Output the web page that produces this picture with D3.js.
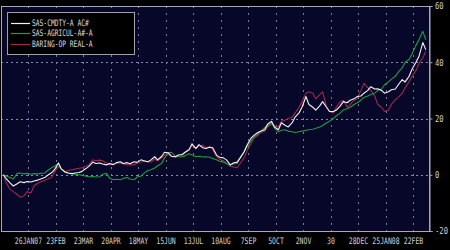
<!DOCTYPE html>
<html><head><meta charset="utf-8">
<script src="https://cdn.jsdelivr.net/npm/d3@7"></script>
<style>html,body{margin:0;padding:0;background:#000;}svg{display:block;}</style>
</head><body>
<script>
const seriesNames = ["SAS-CMDTY-A AC#", "SAS-AGRICUL-A#-A", "BARING-OP REAL-A"];
const seriesColors = ["#f2f2f2", "#1e9e3c", "#a02848"];
const tickDates = ["2007-01-26","2007-02-23","2007-03-23","2007-04-20","2007-05-18","2007-06-15","2007-07-13","2007-08-10","2007-09-07","2007-10-05","2007-11-02","2007-11-30","2007-12-28","2008-01-25","2008-02-22"];
const tickLabels = ["26JAN07","23FEB","23MAR","20APR","18MAY","15JUN","13JUL","10AUG","7SEP","5OCT","2NOV","30","28DEC","25JAN08","22FEB"];
const yTicks = [60, 40, 20, 0, -20];
const yGrid = [40, 20, 0];
const dates = [
"2007-01-01","2007-01-04","2007-01-08","2007-01-11","2007-01-15","2007-01-18","2007-01-22","2007-01-25","2007-01-29","2007-02-01",
"2007-02-05","2007-02-08","2007-02-12","2007-02-15","2007-02-19","2007-02-22","2007-02-26","2007-03-01","2007-03-05","2007-03-08",
"2007-03-12","2007-03-15","2007-03-19","2007-03-22","2007-03-26","2007-03-29","2007-04-02","2007-04-05","2007-04-09","2007-04-12",
"2007-04-16","2007-04-19","2007-04-23","2007-04-26","2007-04-30","2007-05-03","2007-05-07","2007-05-10","2007-05-14","2007-05-17",
"2007-05-21","2007-05-24","2007-05-28","2007-05-31","2007-06-04","2007-06-07","2007-06-11","2007-06-14","2007-06-18","2007-06-21",
"2007-06-25","2007-06-28","2007-07-02","2007-07-05","2007-07-09","2007-07-12","2007-07-16","2007-07-19","2007-07-23","2007-07-26",
"2007-07-30","2007-08-02","2007-08-06","2007-08-09","2007-08-13","2007-08-16","2007-08-20","2007-08-23","2007-08-27","2007-08-30",
"2007-09-03","2007-09-06","2007-09-10","2007-09-13","2007-09-17","2007-09-20","2007-09-24","2007-09-27","2007-10-01","2007-10-04",
"2007-10-08","2007-10-11","2007-10-15","2007-10-18","2007-10-22","2007-10-25","2007-10-29","2007-11-01","2007-11-05","2007-11-08",
"2007-11-12","2007-11-15","2007-11-19","2007-11-22","2007-11-26","2007-11-29","2007-12-03","2007-12-06","2007-12-10","2007-12-13",
"2007-12-17","2007-12-20","2007-12-24","2007-12-27","2007-12-31","2008-01-03","2008-01-07","2008-01-10","2008-01-14","2008-01-17",
"2008-01-21","2008-01-24","2008-01-28","2008-01-31","2008-02-04","2008-02-07","2008-02-11","2008-02-14","2008-02-18","2008-02-21",
"2008-02-25","2008-02-28","2008-03-03","2008-03-06"];
const cmdty = [0,-1.5,-3,-4,-3.2,-2.5,-2.8,-2.4,-2.6,-2.2,
-1.9,-1.5,-1,-0.2,0.7,1.8,4.2,2,1,0.6,
0.4,0.6,0.8,1.2,2.2,3,4.5,4,4.2,3.8,
3.5,4,3.6,4.3,4.6,4,4.3,3.9,4.6,4.4,
5.3,5,4.6,5.2,6.4,5.3,6.5,8,7.8,6.6,
6.4,7,7.2,8,8.9,11,9.3,10.7,9.6,9.3,
9.8,9.6,7,6.2,6,5.3,3.5,4.2,4.5,6,
8.2,10.5,13,14,15,15.5,16,18,19,17,
16,18.5,17.5,17,18.5,20.5,22,24,27.8,25,
24,23,24.5,26,24,22.5,22.5,23,24.5,26,
25.6,26.5,27,27.8,28,29,30,31.3,30.5,30.6,
30,29,29.5,30.2,30.5,32,33.8,33,35,37.5,
40,42,47,44.5];
const agricul = [0,-0.5,-1,-1.5,0.5,0.6,0.3,0.5,0.2,0.4,
0.3,0.5,0.6,1.5,2.5,3,4,2,0.8,0.5,
0.3,0.2,0,-0.2,-0.5,-0.7,-0.6,-0.8,-0.7,0.2,
0.5,-1.2,-1.8,-1.6,-1.8,-1.3,-1,-1.5,-1.8,-0.8,
-0.5,0.5,1.5,1.8,2.4,3.2,4,6,7.8,8,
6.5,6.4,6.4,6.8,7.5,7,6.4,6.6,6.3,6.4,
6.2,5.8,5.3,4.8,4.5,4,3.5,3.8,4,6,
8,10,12,13.5,14.5,15.5,16.7,17.5,18.5,16.5,
15.3,15.8,16,15.5,15.3,15,15.3,15.5,15.8,16,
16.2,16.5,17,17.5,18.5,19,20,21,22,23,
23.5,24,25,25.6,26.5,27.5,28,28.5,29,30,
30.5,32,33,34,35,36.5,38,40,41,43,
46,48,51,48];
const realEst = [0,-3,-5.3,-6,-7,-8,-7.5,-6,-6.5,-4,
-3,-2.5,-2,-1.5,-1,1,3,2,1,1.5,
1.8,2,2.3,2.5,3,3.5,5.3,5,5.2,5,
4.2,3.5,3.8,4,4.2,3.8,3.6,3.5,3.6,4,
4.5,4.8,4.6,4.5,5.5,5,6,7,7.2,6.5,
6.2,6.5,7,8,9,10.5,9.5,10.3,10.5,9.5,
10,9,6.5,5.5,5,4,3,2.8,2.5,4,
6,8.5,11,13,14,15,15.5,17,18,17.5,
17,19,19.5,20,20.5,22,24,26,29,29.5,
29,27,28.5,29.5,24,22.5,22,24,26,26.5,
24,25,26.5,27,30,32.5,31,30,28,25,
24,22.5,23,25,26.7,27.5,29,31,33,35,
37,39.5,41.6,43.8];
const seriesValues = [cmdty, agricul, realEst];

const W = 450, H = 250;
const plot = {left: 1, right: 430, top: 6, bottom: 232};
const parse = d3.timeParse("%Y-%m-%d");
const x = d3.scaleTime().domain([parse("2007-01-26"), parse("2008-02-22")]).range([28, 413]);
const y = d3.scaleLinear().domain([-20, 60]).range([231, 6]);

const svg = d3.select("body").append("svg").attr("width", W).attr("height", H);
svg.append("rect").attr("width", W).attr("height", H).attr("fill", "#000");
svg.append("rect").attr("x", plot.left).attr("y", plot.top)
  .attr("width", plot.right - plot.left).attr("height", plot.bottom - plot.top)
  .attr("fill", "#07072a");

const FONT = "'DejaVu Sans Mono', monospace";
// grid
svg.append("g").selectAll("line").data(yGrid).join("line")
  .attr("x1", plot.left).attr("x2", plot.right)
  .attr("y1", d => Math.round(y(d)) + 0.5).attr("y2", d => Math.round(y(d)) + 0.5)
  .attr("stroke", "#8888a8").attr("stroke-width", 1).attr("stroke-dasharray", "2,3");
svg.append("g").selectAll("line").data(tickDates).join("line")
  .attr("x1", d => Math.round(x(parse(d))) + 0.5).attr("x2", d => Math.round(x(parse(d))) + 0.5)
  .attr("y1", plot.top).attr("y2", plot.bottom)
  .attr("stroke", "#7a7a98").attr("stroke-width", 1).attr("stroke-dasharray", "2,5");

// lines
const line = d3.line().x((d, i) => x(parse(dates[i]))).y(d => y(d));
const order = [2, 1, 0];
order.forEach(s => {
  svg.append("path").datum(seriesValues[s]).attr("d", line)
    .attr("fill", "none").attr("stroke", seriesColors[s]).attr("stroke-width", 1.1)
    .attr("stroke-linejoin", "round");
});

// frame
svg.append("rect").attr("x", plot.left + 0.5).attr("y", plot.top + 0.5)
  .attr("width", plot.right - plot.left - 1).attr("height", plot.bottom - plot.top - 1)
  .attr("fill", "none").attr("stroke", "#a8a8b8").attr("stroke-width", 1);

// right axis
const yAxis = d3.axisRight(y).tickValues(yTicks).tickSize(3).tickPadding(2).tickFormat(d => d);
const ga = svg.append("g").attr("transform", `translate(${plot.right - 0.5},0)`).call(yAxis);
ga.select(".domain").attr("stroke", "#a8a8b8");
ga.selectAll(".tick line").attr("stroke", "#a8a8b8");
ga.selectAll(".tick text").attr("fill", "#d0d0d0").attr("font-family", FONT).attr("font-size", 9)
  .attr("transform", "scale(0.8,1)").attr("x", 5.5 / 0.8).attr("dy", "0.32em");

// bottom axis labels
const xAxis = d3.axisBottom(x).tickValues(tickDates.map(parse)).tickSize(0).tickPadding(5)
  .tickFormat((d, i) => tickLabels[i]);
const gx = svg.append("g").attr("transform", `translate(0,${plot.bottom})`).call(xAxis);
gx.select(".domain").remove();
gx.selectAll(".tick text").attr("fill", "#d0d0d0").attr("font-family", FONT).attr("font-size", 9)
  .attr("transform", "scale(0.72,1)")
  .attr("y", 12).attr("dy", 0);

// legend
const lg = svg.append("g");
lg.append("rect").attr("x", 7.5).attr("y", 12.5).attr("width", 127).attr("height", 42)
  .attr("fill", "#000").attr("stroke", "#a0a0a0").attr("stroke-width", 1);
const ly = [23, 33, 44];
seriesNames.forEach((n, i) => {
  lg.append("line").attr("x1", 11).attr("x2", 30).attr("y1", ly[i] + 0.5).attr("y2", ly[i] + 0.5)
    .attr("stroke", seriesColors[i]).attr("stroke-width", 1.2);
  lg.append("text").attr("transform", `translate(32,${ly[i] + 3}) scale(0.7,1)`)
    .attr("fill", "#d8d8d8").attr("font-family", FONT).attr("font-size", 9).text(n);
});
</script>
</body></html>
